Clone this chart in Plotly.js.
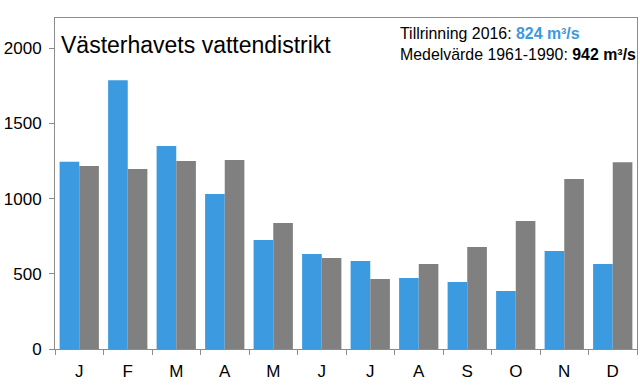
<!DOCTYPE html>
<html>
<head>
<meta charset="utf-8">
<script src="https://cdn.plot.ly/plotly-3.0.1.min.js"></script>
<style>html,body{margin:0;padding:0;background:#fff;}#chart{width:640px;height:390px;}</style>
</head>
<body>
<div id="chart"></div>
<script>
const months = ["J","F","M","A","M","J","J","A","S","O","N","D"];
const inflow2016 = [1245, 1787, 1349, 1030, 724, 631, 585, 472, 445, 385, 651, 565];
const mean19611990 = [1216, 1196, 1249, 1256, 837, 605, 465, 565, 678, 850, 1130, 1242];
const chartTitle = "Västerhavets vattendistrikt";
const legendLine1 = "Tillrinning 2016: <span style='color:#3b9ae0;font-weight:bold'>824 m³/s</span>";
const legendLine2 = "Medelvärde 1961-1990: <b>942 m³/s</b>";

const idx = months.map((m, i) => i);
const font = "Liberation Sans, Arial, sans-serif";

const traces = [
  {type: "bar", x: idx, y: inflow2016, name: "2016", marker: {color: "#3b9ae0"}},
  {type: "bar", x: idx, y: mean19611990, name: "1961-1990", marker: {color: "#808080"}}
];

const layout = {
  width: 640, height: 390,
  margin: {l: 55, r: 3, t: 18, b: 41},
  paper_bgcolor: "#fff", plot_bgcolor: "#fff",
  barmode: "group", bargap: 0.19, bargroupgap: 0,
  showlegend: false,
  font: {family: font, color: "#000"},
  xaxis: {
    range: [-0.5, 11.5],
    tickmode: "array", tickvals: idx, ticktext: months,
    ticks: "", tickfont: {size: 17, family: font},
    ticklabelstandoff: 7,
    showline: true, linecolor: "#8c8c8c", linewidth: 1, mirror: true,
    showgrid: false, zeroline: false,
    minor: {tickmode: "linear", tick0: -0.5, dtick: 1, ticks: "outside", ticklen: 5, tickcolor: "#8c8c8c", showgrid: false}
  },
  yaxis: {
    range: [0, 2200],
    tickvals: [0, 500, 1000, 1500, 2000],
    ticks: "outside", ticklen: 5, tickcolor: "#8c8c8c",
    tickfont: {size: 17, family: font},
    ticklabelstandoff: 4,
    showline: true, linecolor: "#8c8c8c", linewidth: 1, mirror: true,
    showgrid: false, zeroline: false
  },
  annotations: [
    {xref: "paper", yref: "paper", x: 0.007, y: 0.965, xanchor: "left", yanchor: "top",
     text: chartTitle, showarrow: false, font: {size: 23, family: font, color: "#000"}},
    {xref: "paper", yref: "paper", x: 0.59, y: 0.985, xanchor: "left", yanchor: "top", align: "left",
     text: legendLine1 + "<br>" + legendLine2, showarrow: false,
     font: {size: 15.9, family: font, color: "#000"}}
  ]
};

Plotly.newPlot("chart", traces, layout, {displayModeBar: false, staticPlot: true});
</script>
</body>
</html>
